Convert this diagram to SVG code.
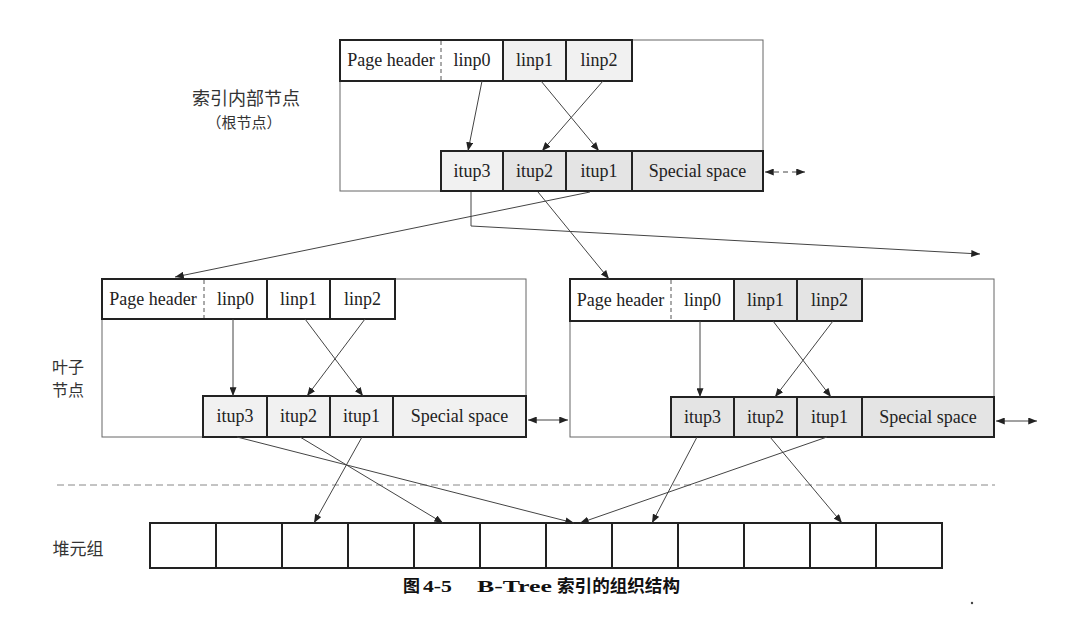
<svg xmlns="http://www.w3.org/2000/svg" width="1076" height="623" viewBox="0 0 1076 623">
<defs>
<marker id="ah" viewBox="0 0 10 8" refX="10" refY="4" markerWidth="9" markerHeight="7" markerUnits="userSpaceOnUse" orient="auto-start-reverse">
<path d="M0,0 L10,4 L0,8 Z" fill="#222"/>
</marker>
<style>
.page{fill:none;stroke:#666;stroke-width:1}
.cell{stroke:#222;stroke-width:2}
.w{fill:#ffffff}
.g1{fill:#f1f1f1}
.g2{fill:#e4e4e4}
.div{stroke:#555;stroke-width:1;stroke-dasharray:4,3}
.t{font-family:"Liberation Serif",serif;font-size:18px;fill:#222;text-anchor:middle}
.lbl{font-family:"Noto Sans CJK SC",sans-serif;fill:#333;text-anchor:middle}
.ln{fill:none;stroke:#444;stroke-width:1}
.arr{marker-end:url(#ah)}
.dbl{marker-start:url(#ah);marker-end:url(#ah)}
.cap{font-weight:bold;fill:#111;font-size:17px}
</style>
</defs>
<rect width="1076" height="623" fill="#ffffff"/>

<g id="labels">
<text class="lbl" x="246" y="105" font-size="18">索引内部节点</text>
<text class="lbl" x="244" y="128" font-size="15">（根节点）</text>
<text class="lbl" x="68" y="373" font-size="16">叶子</text>
<text class="lbl" x="68" y="396" font-size="16">节点</text>
<text class="lbl" x="78" y="555" font-size="17">堆元组</text>
</g>

<g id="root">
<rect class="page" x="340" y="40" width="423" height="151"/>
<rect class="cell w" x="340" y="40" width="163" height="41"/>
<line class="div" x1="441" y1="41" x2="441" y2="80"/>
<rect class="cell g1" x="503" y="40" width="63" height="41"/>
<rect class="cell g1" x="566" y="40" width="66" height="41"/>
<rect class="cell g1" x="441" y="151" width="62" height="40"/>
<rect class="cell g2" x="503" y="151" width="63" height="40"/>
<rect class="cell g2" x="566" y="151" width="66" height="40"/>
<rect class="cell g2" x="632" y="151" width="131" height="40"/>
<text class="t" x="391" y="66">Page header</text>
<text class="t" x="472" y="66">linp0</text>
<text class="t" x="534.5" y="66">linp1</text>
<text class="t" x="599" y="66">linp2</text>
<text class="t" x="472" y="177">itup3</text>
<text class="t" x="534.5" y="177">itup2</text>
<text class="t" x="599" y="177">itup1</text>
<text class="t" x="697.5" y="177">Special space</text>
</g>

<g id="leafLeft">
<rect class="page" x="102" y="279" width="424" height="158"/>
<rect class="cell w" x="102" y="279" width="165" height="40"/>
<line class="div" x1="204" y1="280" x2="204" y2="318"/>
<rect class="cell w" x="267" y="279" width="63" height="40"/>
<rect class="cell w" x="330" y="279" width="65" height="40"/>
<rect class="cell g1" x="203" y="396" width="64" height="41"/>
<rect class="cell g1" x="267" y="396" width="63" height="41"/>
<rect class="cell g1" x="330" y="396" width="63" height="41"/>
<rect class="cell g1" x="393" y="396" width="133" height="41"/>
<text class="t" x="153" y="305">Page header</text>
<text class="t" x="235.5" y="305">linp0</text>
<text class="t" x="298.5" y="305">linp1</text>
<text class="t" x="362.5" y="305">linp2</text>
<text class="t" x="235" y="422">itup3</text>
<text class="t" x="298.5" y="422">itup2</text>
<text class="t" x="361.5" y="422">itup1</text>
<text class="t" x="459.5" y="422">Special space</text>
</g>

<g id="leafRight">
<rect class="page" x="570" y="279" width="424" height="158"/>
<rect class="cell w" x="570" y="279" width="164" height="42"/>
<line class="div" x1="671" y1="280" x2="671" y2="320"/>
<rect class="cell g2" x="734" y="279" width="63" height="42"/>
<rect class="cell g2" x="797" y="279" width="65" height="42"/>
<rect class="cell g2" x="671" y="397" width="63" height="40"/>
<rect class="cell g2" x="734" y="397" width="63" height="40"/>
<rect class="cell g2" x="797" y="397" width="65" height="40"/>
<rect class="cell g2" x="862" y="397" width="132" height="40"/>
<text class="t" x="620.5" y="306">Page header</text>
<text class="t" x="702.5" y="306">linp0</text>
<text class="t" x="765.5" y="306">linp1</text>
<text class="t" x="829.5" y="306">linp2</text>
<text class="t" x="702.5" y="423">itup3</text>
<text class="t" x="765.5" y="423">itup2</text>
<text class="t" x="829.5" y="423">itup1</text>
<text class="t" x="928" y="423">Special space</text>
</g>

<g id="heap">
<rect class="cell w" x="150" y="523" width="792" height="45"/>
<path class="cell" fill="none" d="M216,523V568M282,523V568M348,523V568M414,523V568M480,523V568M546,523V568M612,523V568M678,523V568M744,523V568M810,523V568M876,523V568"/>
</g>

<g id="separator">
<line x1="57" y1="485" x2="995" y2="485" stroke="#888" stroke-width="1" stroke-dasharray="7,4"/>
</g>

<g id="connectors">
<path class="ln arr" d="M482,81 L468,151"/>
<path class="ln arr" d="M541,81 L599,151"/>
<path class="ln arr" d="M603,81 L542,151"/>
<path class="ln dbl" d="M765,172 L805,172" stroke-dasharray="5,4"/>
<path class="ln arr" d="M471,192 V226 L980,254"/>
<path class="ln arr" d="M590,192 L175,277"/>
<path class="ln arr" d="M538,192 L609,279"/>
<path class="ln arr" d="M233,319 L233,396"/>
<path class="ln arr" d="M305,319 L363,396"/>
<path class="ln arr" d="M365,319 L307,396"/>
<path class="ln arr" d="M700,321 L700,397"/>
<path class="ln arr" d="M773,321 L831,397"/>
<path class="ln arr" d="M833,321 L775,397"/>
<path class="ln dbl" d="M528,420 L568,420"/>
<path class="ln dbl" d="M996,421 L1037,421"/>
<path class="ln arr" d="M237,437 L574,523"/>
<path class="ln arr" d="M300,437 L443,523"/>
<path class="ln arr" d="M362,437 L314,523"/>
<path class="ln arr" d="M697,437 L652,523"/>
<path class="ln arr" d="M770,437 L842,523"/>
<path class="ln arr" d="M827,437 L580,523"/>
</g>

<g id="caption">
<text y="592" class="cap"><tspan x="403" font-family="Noto Sans CJK SC,sans-serif">图</tspan><tspan x="423" font-family="Liberation Serif,serif" textLength="29" lengthAdjust="spacingAndGlyphs">4-5</tspan><tspan x="477" font-family="Liberation Serif,serif" textLength="75" lengthAdjust="spacingAndGlyphs">B-Tree</tspan><tspan x="557" font-family="Noto Sans CJK SC,sans-serif" textLength="123" lengthAdjust="spacingAndGlyphs">索引的组织结构</tspan></text>
</g>
<circle cx="972" cy="603" r="1.2" fill="#444"/>
</svg>
